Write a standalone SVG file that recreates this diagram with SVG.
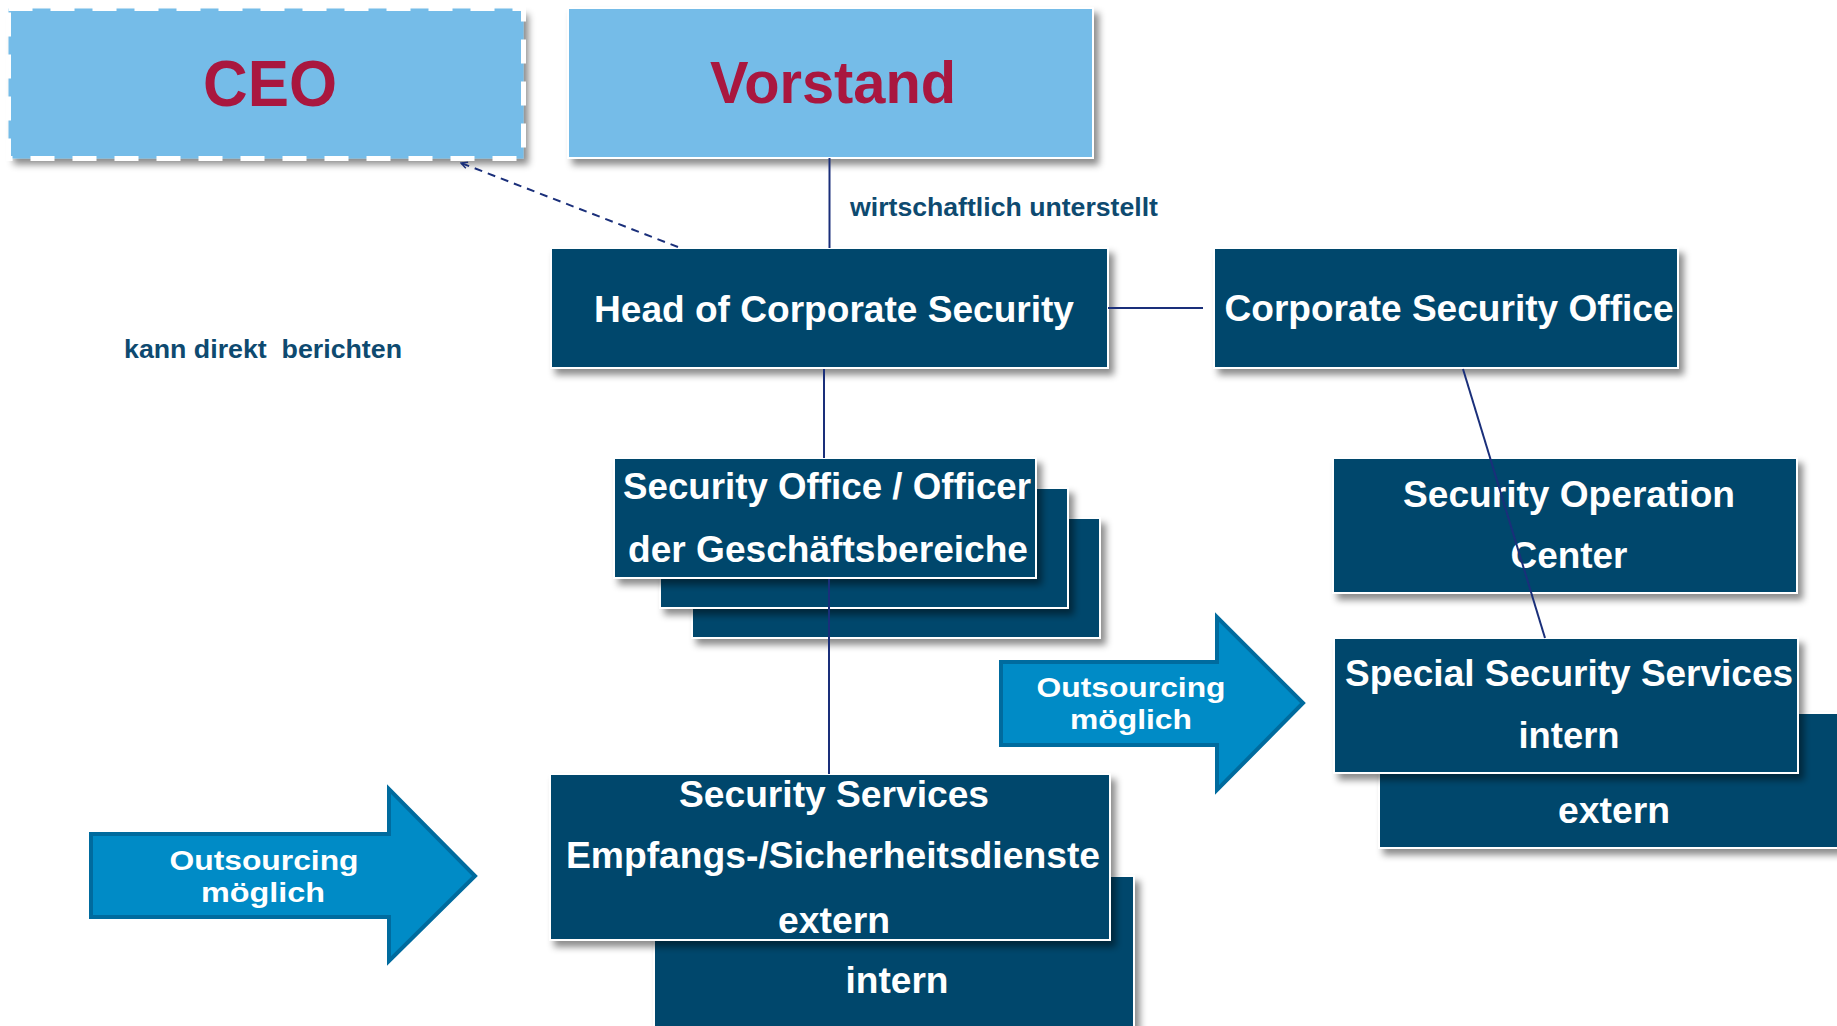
<svg xmlns="http://www.w3.org/2000/svg" width="1837" height="1026" viewBox="0 0 1837 1026">
<defs>
<style>
.t{font-family:"Liberation Sans",Arial,sans-serif;font-weight:bold;}
.top{fill:#74BCE8;}
.navy{fill:#00466C;stroke:#ffffff;stroke-width:2;}
.wt{fill:#ffffff;font-size:37px;text-anchor:middle;}
.red{fill:#A9173F;text-anchor:middle;}
.lbl{fill:#0E4A70;font-size:26px;}
.arr{fill:#008BC6;stroke:#006B9E;stroke-width:4;stroke-linejoin:miter;}
.at{fill:#ffffff;font-size:28.5px;text-anchor:middle;}
.con{stroke:#1A2F7A;stroke-width:2;fill:none;}
</style>
<filter id="sh" x="-10%" y="-10%" width="130%" height="140%">
<feDropShadow dx="5" dy="6" stdDeviation="3.5" flood-color="#000" flood-opacity="0.45"/>
</filter>
<marker id="ah" viewBox="0 0 10 10" refX="9" refY="5" markerWidth="8" markerHeight="8" orient="auto" markerUnits="userSpaceOnUse">
<path d="M1,1 L9,5 L1,9" fill="none" stroke="#1A2F7A" stroke-width="1.8"/>
</marker>
</defs>
<rect width="1837" height="1026" fill="#ffffff"/>

<g id="ceo">
<rect x="8.5" y="8.5" width="515" height="150" class="top" filter="url(#sh)"/>
<rect x="8.5" y="8.5" width="515" height="150" fill="none" stroke="#ffffff" stroke-width="5" stroke-dasharray="24 18"/>
<text x="270" y="106" class="t red" font-size="64" textLength="134" lengthAdjust="spacingAndGlyphs">CEO</text>
</g>

<g id="vorstand">
<rect x="568" y="8" width="525" height="150" class="top" stroke="#ffffff" stroke-width="2" filter="url(#sh)"/>
<text x="833" y="103" class="t red" font-size="60" textLength="246" lengthAdjust="spacingAndGlyphs">Vorstand</text>
</g>

<g id="head">
<rect x="551" y="248" width="557" height="120" class="navy" filter="url(#sh)"/>
<text x="834" y="322" class="t wt" textLength="480" lengthAdjust="spacingAndGlyphs">Head of Corporate Security</text>
</g>

<g id="cso">
<rect x="1214" y="248" width="464" height="120" class="navy" filter="url(#sh)"/>
<text x="1449" y="321" class="t wt" textLength="449" lengthAdjust="spacingAndGlyphs">Corporate Security Office</text>
</g>

<g id="security-office">
<rect x="692" y="518" width="408" height="120" class="navy" filter="url(#sh)"/>
<rect x="660" y="488" width="408" height="120" class="navy" filter="url(#sh)"/>
<rect x="614" y="458" width="422" height="120" class="navy" filter="url(#sh)"/>
<text x="827" y="499" class="t wt" textLength="408" lengthAdjust="spacingAndGlyphs">Security Office / Officer</text>
<text x="828" y="562" class="t wt" textLength="400" lengthAdjust="spacingAndGlyphs">der Geschäftsbereiche</text>
</g>

<g id="soc">
<rect x="1333" y="458" width="464" height="135" class="navy" filter="url(#sh)"/>
<text x="1569" y="507" class="t wt" textLength="332" lengthAdjust="spacingAndGlyphs">Security Operation</text>
<text x="1569" y="568" class="t wt" textLength="117" lengthAdjust="spacingAndGlyphs">Center</text>
</g>

<g id="special-security-services">
<rect x="1379" y="713" width="470" height="135" class="navy" filter="url(#sh)"/>
<text x="1614" y="823" class="t wt" textLength="112" lengthAdjust="spacingAndGlyphs">extern</text>
<rect x="1334" y="638" width="464" height="135" class="navy" filter="url(#sh)"/>
<text x="1569" y="686" class="t wt" textLength="448" lengthAdjust="spacingAndGlyphs">Special Security Services</text>
<text x="1569" y="748" class="t wt" textLength="101" lengthAdjust="spacingAndGlyphs">intern</text>
</g>

<g id="security-services">
<rect x="654" y="876" width="480" height="160" class="navy" filter="url(#sh)"/>
<text x="897" y="993" class="t wt" textLength="103" lengthAdjust="spacingAndGlyphs">intern</text>
<rect x="550" y="774" width="560" height="166" class="navy" filter="url(#sh)"/>
<text x="834" y="807" class="t wt" textLength="310" lengthAdjust="spacingAndGlyphs">Security Services</text>
<text x="833" y="868" class="t wt" textLength="534" lengthAdjust="spacingAndGlyphs">Empfangs-/Sicherheitsdienste</text>
<text x="834" y="933" class="t wt" textLength="112" lengthAdjust="spacingAndGlyphs">extern</text>
</g>

<g id="outsourcing-left">
<polygon points="91,834 389,834 389,789 475,876 389,961 389,917 91,917" class="arr"/>
<text x="264" y="870" class="t at" textLength="189" lengthAdjust="spacingAndGlyphs">Outsourcing</text>
<text x="263" y="902" class="t at" textLength="124" lengthAdjust="spacingAndGlyphs">möglich</text>
</g>

<g id="outsourcing-right">
<polygon points="1001,662 1217,662 1217,617 1303,703 1217,790 1217,745 1001,745" class="arr"/>
<text x="1131" y="697" class="t at" textLength="189" lengthAdjust="spacingAndGlyphs">Outsourcing</text>
<text x="1131" y="729" class="t at" textLength="122" lengthAdjust="spacingAndGlyphs">möglich</text>
</g>

<g id="labels">
<text x="850" y="216" class="t lbl" textLength="308" lengthAdjust="spacingAndGlyphs">wirtschaftlich unterstellt</text>
<text x="124" y="358" class="t lbl" textLength="278" lengthAdjust="spacingAndGlyphs" xml:space="preserve">kann direkt  berichten</text>
</g>

<g id="connectors">
<line x1="829.5" y1="158" x2="829.5" y2="248" class="con"/>
<line x1="1108" y1="308" x2="1203" y2="308" class="con"/>
<line x1="824" y1="369" x2="824" y2="458" class="con"/>
<line x1="829" y1="579" x2="829" y2="774" class="con"/>
<line x1="1463" y1="369" x2="1545" y2="638" class="con"/>
<line x1="678" y1="247" x2="461" y2="163" class="con" stroke-dasharray="8 6" marker-end="url(#ah)"/>
</g>
</svg>
